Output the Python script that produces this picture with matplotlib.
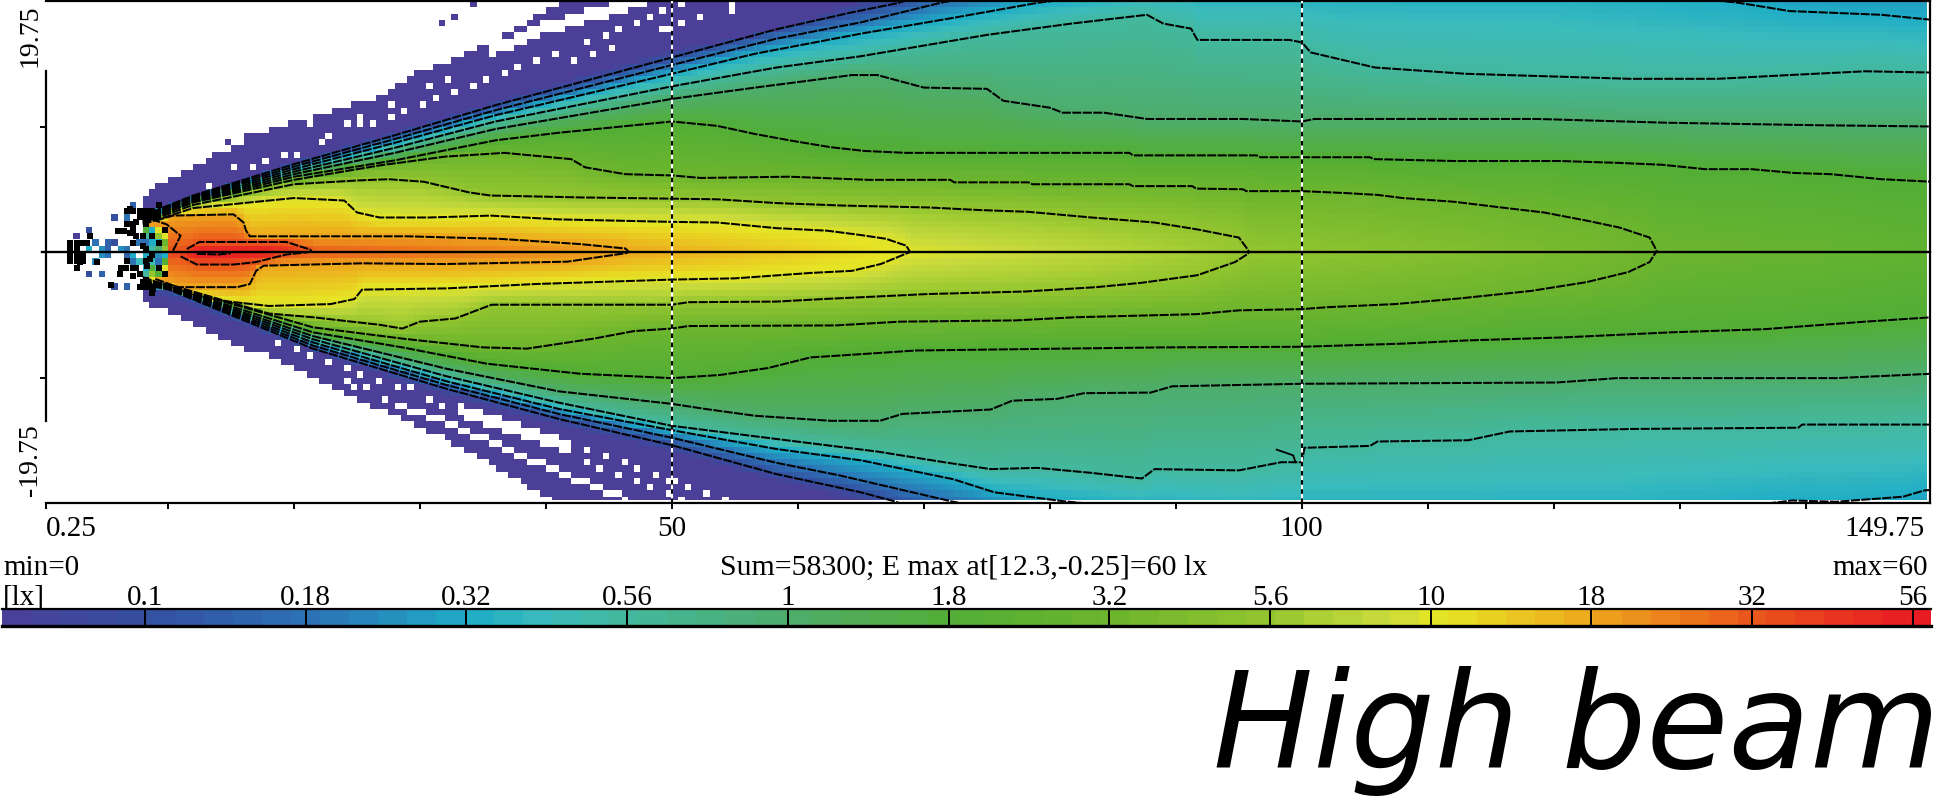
import numpy as np
import matplotlib
matplotlib.use('Agg')
import matplotlib.pyplot as plt
from matplotlib.colors import LinearSegmentedColormap, LogNorm

# isolux lines: (distance m, half width m)
# points past +-20 lie outside the frame and only carry the colour field
up_006 = [(8,3.1),(20,7.2),(36,12),(50,16.2),(58.3,17.6),(64,19.75),(80,26),(150,30)]
up_01 = [(8,2.9),(12,4.5),(20,7),(28,9.3),(36,11.7),(50,15.5),(58.3,17.75),(64.3,19.1),(68,19.85),(80,24),(150,28)]
up_018 = [(8,2.8),(12,4.4),(20,6.8),(28,9),(36,11.3),(50,14.9),(58.3,17),(65,18.3),(71.3,19.85),(85,22.5),(150,24)]
up_032 = [(8,2.7),(12,4.3),(20,6.6),(28,8.7),(36,10.9),(50,14.2),(56.6,15.8),(65,17.4),(72,18.6),(79,19.85),(90,21.2),(120,21.5),
          (134.7,19.85),(138.7,19.2),(146,18.9),(150,18.5)]
up_056 = [(8,2.6),(12,4.2),(20,6.4),(28,8.3),(36,10.4),(50,13.2),(58.3,14.7),(65,15.6),(75,17.3),(81.7,18.2),(87.7,18.9),(89,18.2),
          (91.2,17.8),(91.7,16.9),(99,16.9),(100,16.7),(100.7,15.9),(105.8,14.7),(113,14.2),(126,13.8),(133,13.8),(138.7,14.1),(144.7,14.4),(150,14.3)]
up_1 = [(8,2.5),(12,4.1),(20,6.2),(28,7.9),(36,9.8),(50,12.2),(56.6,13.1),(64.3,14.1),(66.3,14.1),(70,13.1),(75,13),(76.3,12.05),
        (80,11.5),(81,11.1),(84.3,11.1),(87.7,10.6),(95.3,10.6),(100,10.4),(101,10.6),(118.7,10.6),(129,10.3),(141,10.1),(150,10)]
up_18 = [(8,2.45),(12,4),(20,6),(28,7.3),(36,8.9),(41,9.5),(50,10.4),(53.6,10.05),(56.6,9.4),(59.6,8.85),(62.6,8.35),(65.3,8.05),(68.6,7.9),
         (86.3,7.9),(86.6,7.7),(96.4,7.7),(96.7,7.55),(105.4,7.55),(105.7,7.4),(112.1,7.25),(120.5,7.25),(125.2,7.1),(128.6,6.95),(132,6.6),
         (135.7,6.6),(139,6.3),(142,6.2),(146,5.8),(150,5.6)]
up_32 = [(8,2.4),(12,3.95),(20,5.75),(26.8,6.9),(32,7.6),(36.7,7.9),(42,7.4),(43.1,6.75),(46.3,6.2),(50,6.1),(52.3,5.9),(59.3,6),(65.6,5.75),
         (72.1,5.75),(72.4,5.55),(78.3,5.55),(78.6,5.4),(86.3,5.4),(86.6,5.25),(91.3,5.25),(91.6,5.05),(95.3,5),(95.6,4.85),(100,4.85),(103.4,4.7),
         (106,4.55),(108,4.3),(112.1,4),(115.8,3.55),(119.2,3.15),(122.6,2.5),(125.2,1.95),(127.6,1.15),(128.1,0.2),(128.2,0)]
up_56 = [(8,2.3),(12,3.75),(20,5.4),(25,5.7),(27.5,5.8),(30.3,5.6),(33.9,4.75),(35.6,4.5),(42.7,4.35),(53.6,4.2),(58.3,3.9),(63.6,3.7),
         (70.3,3.55),(74.3,3.35),(78.3,3.2),(83.3,2.75),(88.3,2.35),(91.7,1.8),(95,1.15),(95.7,0.2),(95.8,0)]
up_10 = [(8,2.2),(12,3.5),(20,4.3),(24,4.1),(25,3.15),(26.8,2.75),(30.7,2.75),(35.6,2.9),(41,2.6),(50,2.4),(53.6,2.35),(58.3,1.9),
         (62.3,1.7),(65,1.35),(67,1.05),(68.6,0.5),(68.9,0)]
up_18lx = [(9,2.5),(10.4,2.9),(15.2,3),(16,2.35),(16.2,1.7),(16.5,1.25),(29,1.25),(36.3,1.05),(42.7,0.63),(46.3,0.28),(46.6,0)]
up_32lx = [(11.5,0.24),(12.5,0.8),(19.4,0.8),(21.3,0.19),(21.4,0)]
up_lobe = [(10.4,0.1),(11,1.3),(9.9,2.2),(9,2.5)]

lo_006 = [(8,3.1),(20,7.4),(32,11.5),(41,13.9),(50,16),(58.3,18.3),(65,20),(80,26),(150,30)]
lo_01 = [(8,2.6),(10.1,3),(21.5,7.7),(32.1,10.9),(41,13.3),(50,15.4),(58.3,17.7),(65,19.15),(67.6,19.85),(80,24),(150,28)]
lo_018 = [(8,2.55),(10.1,2.95),(21.5,7.45),(32.1,10.6),(41,12.9),(50,14.8),(58.3,16.8),(63.3,17.8),(72.1,19.85),(85,22.5),(150,24)]
lo_032 = [(8,2.5),(10.1,2.9),(21.5,7.2),(32.1,10.3),(41,12.5),(50,14.2),(58.3,15.7),(65,16.6),(72.3,18.1),(75.6,19.15),(81,19.85),(95,21.2),
          (125,21.5),(138.9,19.8),(142.4,19.9),(147.7,19.5),(149.4,19),(150,18.95)]
lo_056 = [(8,2.45),(10.1,2.85),(21.5,6.95),(32.1,9.9),(41,12),(50,13.85),(58.3,14.9),(66.3,15.9),(71.6,16.75),(75.3,17.3),(79,17.2),(83.3,17.6),
          (87.3,18.05),(88.3,17.3),(95,17.4),(98.35,16.75),(100,16.75),(100.2,15.6),(105.4,15.45),(106,15.1),(113.2,15),(116.5,14.3),(126.3,14.1),
          (139.4,14),(139.7,13.75),(150,13.75)]
lo_1 = [(8,2.4),(10.1,2.8),(21.5,6.7),(32.1,9.3),(41,11.1),(50,12.1),(52.6,12.5),(56.6,13.05),(62.6,13.45),(66.5,13.45),(68.3,12.9),(75.3,12.55),
        (77,11.85),(80.6,11.7),(82.7,11.25),(88,11.2),(89.7,10.7),(100,10.5),(120.2,10.4),(125,10.05),(142.4,10.05),(150,9.7)]
lo_18 = [(8,2.35),(10.1,2.75),(21.5,6.4),(28.6,7.6),(35.3,8.9),(42.7,9.7),(50,10.05),(53.8,9.8),(57.6,9.25),(61,8.4),(65.6,8.1),(69.3,7.85),
         (81,7.7),(89,7.6),(100,7.55),(108,7.3),(113,7.05),(120.9,6.8),(129.3,6.4),(136.7,6.15),(144.7,5.55),(150,5.2)]
lo_32 = [(8,2.3),(10.1,2.7),(21.5,6),(28.6,6.9),(35,7.6),(38.5,7.7),(43.8,6.9),(47,6.3),(50,6.1),(51.3,5.9),(63,5.85),(68.1,5.55),(77.3,5.45),
         (82,5.2),(91.7,4.95),(95,4.65),(100,4.55),(102,4.4),(107.4,4.15),(112.5,3.7),(118.2,3.1),(122.6,2.4),(125.9,1.6),(127.6,0.8),(128.1,0)]
lo_56 = [(8,2.2),(10.1,2.6),(18,4.9),(21.5,5.2),(26.8,5.8),(28.6,6.1),(30,5.55),(32.8,5.3),(34.9,4.5),(35.7,4.2),(50,4.2),(51.3,4),(58.3,3.95),
         (62,3.75),(70.3,3.35),(78,3.15),(83.7,2.8),(87.3,2.45),(91.7,1.85),(94.7,0.8),(95.7,0.15),(95.8,0)]
lo_10 = [(8,2),(12,3.4),(14.4,3.9),(18,4.3),(22.9,4.15),(24.8,3.75),(25.4,3),(32.1,2.9),(39.2,2.55),(50,2.2),(55,2.1),(61,1.67),(64.3,1.5),
         (66.6,0.95),(68.9,0)]
lo_18lx = [(9,2.15),(10.8,2.8),(15.5,2.8),(16.5,2.55),(17,1.5),(17.6,1.09),(25.4,0.9),(32,0.96),(41.7,0.77),(46.3,0.1),(46.6,0)]
lo_32lx = [(11,0.35),(12.3,1),(15.2,1),(17,0.8),(19.4,0.2),(21.3,0)]
lo_56lx = [(12.3,0.15),(14,0.2),(15,0.1)]

levels = [0.06, 0.1, 0.18, 0.32, 0.56, 1, 1.8, 3.2, 5.6, 10, 18, 32]
up_lines = [up_006, up_01, up_018, up_032, up_056, up_1, up_18, up_32, up_56, up_10, up_18lx, up_32lx]
lo_lines = [lo_006, lo_01, lo_018, lo_032, lo_056, lo_1, lo_18, lo_32, lo_56, lo_10, lo_18lx, lo_32lx]

# lux on the axis
centre_x = [8, 10, 12.3, 18, 21.4, 46.6, 68.9, 95.8, 128.2, 150]
centre_lx = [20, 40, 60, 60, 32, 18, 10, 5.6, 3.2, 2.4]

# outer border of the lit cells
up_edge = [(7.8,4.4),(11.1,6.4),(13.6,7.6),(17.2,9.5),(22.2,11),(26.8,12.4),(29.6,14.2),(32.1,15.1),(36,16.8),(39.2,18.8),(41,19.9),(60,30),(150,30)]
lo_edge = [(7.8,4),(10.2,4.8),(12.5,5.9),(15.2,7.5),(18,8.2),(25,11.7),(32.1,14.9),(40.3,19.7),(42,20.5),(60,30),(150,30)]

# unlit cells inside the dark band: stripes and single cells
up_stripe = [(35.6,15.8),(39.2,17.4),(42.7,18.4),(46.3,19.5),(48,20)]
lo_stripe_a = [(28.6,12.5),(32.1,13.6),(35.65,15.2),(39.2,16.8),(42.7,18.35),(46.3,19.7)]
lo_stripe_b = [(33.2,12.5),(35.65,13.3),(39.2,14.5),(42,15.4)]
up_holes = [(50.5,18.35),(49.6,17.9),(47,18.3),(45.75,17.9),(44.5,17.35),(43.1,16.85),(45.4,16.3),(43.8,15.85),(42.4,15.3),(40.6,15.9),(39.2,15.35),
            (37.8,14.85),(36.5,14.3),(35.3,13.85),(34,13.3),(32.1,13.8),(32.5,12.85),(31.4,12.3),(30.7,13.3),(27.85,11.65),(27.85,10.85),(28.75,11.25),
            (30,11.8),(25,10.85),(24,10.2),(25.4,10),(26.25,10.4),(21.3,10),(22,8.5),(22.9,9),(20.4,7.9),(19,7.9),(17.9,7.4),(16.9,6.95),(15.3,6.5),(13,5.45),
            (49.1,19.35),(50.6,19.75),(54.8,19.35),(54.8,19.75),(52.3,18.9),(50.75,18.35),(49.25,17.9),(48.25,18.8)]
lo_holes = [(18.9,7.25),(20.4,7.7),(21.4,8.2),(22.9,8.7),(24,9.25),(24,10.05),(25.2,9.65),(24.7,10.55),(26.6,10.05),(28,10.55),(25.7,11),(29.1,11),
            (27.15,11.6),(28,12.1),(30.5,11.6),(31.6,12.1),(43.1,15.6),(44.7,16.1),(43.1,16.6),(46.1,16.6),(44.3,17.1),(47.2,17.1),(45.75,17.6),(48.6,17.6),
            (47.2,18.1),(50,18.1),(48.05,18.6),(49.5,19.15),(48.75,17.6),(49.9,18.1),(51.25,18.6),(49.6,19.15),(52.5,19.15),(54.1,19.6),(50.6,19.6)]

# loose cells around the lamp
spot_x = [2.5,3.7,4.1,5.1,5.5,3.55,4.5,5.4,4.6,4.1,5.5,6.5,5.5,7,6.6,8.05,9.1,9.65,10.7,12.3,13.9,14.9,16.4,17.4,18.4,7.3,7.7,3.2,4.8,
          34,32.8,31.6,3.5,4.25,4.75,5.25,6.25,6.75,6.75,7.25,7.75,7.25,
          8.25,8.25,8.75,8.75,9.25,9.25,9.75,9.75,8.25,8.75,9.25,9.75,8.25,8.75,9.25,9.75,
          8.25,8.75,9.25,9.75,8.25,8.75,9.25,9.75,8.25,8.75,9.25,8.25,8.75,9.25]
spot_y = [1.43,1.83,0.9,0.5,0.9,-1.6,-1.6,-0.3,-0.3,-0.55,-2.7,-2.95,2.6,3.55,2.9,4.2,4.9,5.4,5.8,6.9,7.9,8.5,9,9.4,9.9,-0.3,0.7,-0.3,0.3,
          19.7,18.9,18.3,0.25,0.75,-0.25,0.25,0.25,-0.25,0.25,-0.25,-0.75,-0.75,
          0.25,-0.25,0.25,-0.25,0.25,-0.25,0.25,-0.25,0.75,0.75,0.75,0.75,-0.75,-0.75,-0.75,-0.75,
          1.25,1.25,1.25,1.25,-1.25,-1.25,-1.25,-1.25,1.75,1.75,1.75,-1.75,-1.75,-1.75]
spot_lx = [0.06,0.1,0.18,0.14,0.1,0.1,0.14,0.18,0.14,0.24,0.1,0.14,0.1,0.14,0.18,0.07,0.06,0.06,0.06,0.06,0.06,0.06,0.06,0.06,0.06,0.3,0.18,0.32,0.24,
           0.06,0.06,0.06,0.32,0.18,0.24,0.14,0.24,0.14,0.18,0.32,0.42,0.18,
           0.2,0.32,0.5,0.18,1,0.24,5.6,0.32,0.18,0.32,0.32,3.2,0.24,0.42,0.18,1.8,
           0.56,0.32,5.6,10,0.32,1.8,0.56,10,1.8,0.32,10,0.56,5.6,1.8]
blob_x = [2.25,2.25,2.25,2.25,2.75,2.75,2.75,2.75,2.75,3.25,3.25,3.25,3.8,3.55,3,4.35,6,6.5,7,7,7.5,6.2,6.7,7.25,8.3,8,8,8.3,8.6,5.5,8,8.8,7.5,7.5,
          8.25,8.25,8.75,8.25,8.75,7.25,7.75,6.75,7.25,6.25,6.75,7.25,7.75,7.25,6.75,7.25,7.75,8.25,8.75,9.25,7.75,8.25,8.75,
          9.25,8.75,9.25,8.75,9.75,9.75,8.25,8.25]
blob_y = [-0.75,-0.25,0.25,0.75,-1.25,-0.75,-0.25,0.25,0.75,-0.75,-0.25,0.75,1.3,0.75,-0.8,-0.8,1.7,1.7,1.55,3.4,2.4,-1.75,-1.25,-1.9,-1.1,0.5,1.3,2.9,-0.55,-2.6,-2.4,-2.95,-1.25,1.25,
          2.25,2.75,2.75,-2.25,-2.75,2.25,2.75,2.25,1.75,-1.25,-0.75,-1.25,-1.75,0.75,3.25,3.25,3.25,3.25,3.25,3.75,-2.75,-2.75,-3.25,
          0.75,-0.25,-1.25,1.25,1.75,-1.75,0.25,-0.75]

# colour bar: value at each step, ticks, colours
bar_ticks = ['0.1','0.18','0.32','0.56','1','1.8','3.2','5.6','10','18','32','56']
cmap_lx = [0.06,0.1,0.18,0.32,0.42,0.56,1,1.8,3.2,5.6,6.6,8.5,10.5,18,32,56,60]
cmap_col = ['#4b3f98','#344f9f','#2c72b5','#1fadc7','#3cbbbb','#43b89e','#4ead6c','#52ae35','#6db52e','#93c52f','#aacf35','#c9da3c','#e6e525',
            '#eea61d','#ea561c','#e81a22','#e71c23']

W, H = 1943, 812

norm = LogNorm(0.06, 60)
stops = [float(norm(v)) for v in cmap_lx]
cmap = LinearSegmentedColormap.from_list('lux', list(zip(stops, cmap_col)), N=512)
cmap.set_bad('white')

# cell grid 0.5 m, centres at 0.25, 0.75, ...
xe = np.arange(0, 150.01, 0.5)
xe[-1] = 149.6
ye = np.arange(-20, 20.01, 0.5)
ye[0] = -19.75
xc = np.arange(0.25, 150, 0.5)
yc = np.arange(-19.75, 20, 0.5)
field = np.full((len(yc), len(xc)), np.nan)


def pts(line):
    return [p[0] for p in line], [p[1] for p in line]


def side(x, lines, centre):
    # half widths from the inner line to the outer one, only those still open
    ws, vs = [0.0], [np.log10(centre)]
    for lv, line in reversed(list(zip(levels, lines))):
        lx, lw = pts(line)
        w = np.interp(x, lx, lw)
        if w > 0:
            ws.append(max(w, ws[-1] + 0.001))
            vs.append(np.log10(lv))
    return ws, vs


for i, x in enumerate(xc):
    if x < 8:
        continue
    c = np.interp(x, centre_x, centre_lx)
    uw, uv = side(x, up_lines, c)
    dw, dv = side(x, lo_lines, c)
    ue = np.interp(x, *pts(up_edge))
    de = np.interp(x, *pts(lo_edge))
    for j, y in enumerate(yc):
        if y > 0 and y <= ue:
            field[j, i] = 10 ** np.interp(y, uw, uv)
        elif y < 0 and -y <= de:
            field[j, i] = 10 ** np.interp(-y, dw, dv)


def clear(x, y):
    i = int(x / 0.5)
    j = int((y + 20) / 0.5)
    if 0 <= i < len(xc) and 0 <= j < len(yc):
        field[j, i] = np.nan


for x, w in up_holes:
    clear(x, w)
for x, w in lo_holes:
    clear(x, -w)
for sx in np.arange(up_stripe[0][0], up_stripe[-1][0], 0.5):
    sw = np.interp(sx, *pts(up_stripe))
    clear(sx, sw)
    clear(sx, sw + 0.5)
for sx in np.arange(lo_stripe_a[0][0], lo_stripe_a[-1][0], 0.5):
    clear(sx, -np.interp(sx, *pts(lo_stripe_a)))
for sx in np.arange(lo_stripe_b[0][0], lo_stripe_b[-1][0], 0.5):
    sw = np.interp(sx, *pts(lo_stripe_b))
    clear(sx, -sw)
    clear(sx, -sw - 0.5)
for x, y, v in zip(spot_x, spot_y, spot_lx):
    field[int((y + 20) / 0.5), int(x / 0.5)] = v

plt.rcParams['font.family'] = ['Liberation Serif', 'DejaVu Serif']
fig = plt.figure(figsize=(W / 100, H / 100), dpi=100, facecolor='white')

L, R, T, B = 46, 1930, 2, 504
ax = fig.add_axes([L / W, 1 - B / H, (R - L) / W, (B - T) / H])
ax.pcolormesh(xe, ye, np.ma.masked_invalid(field), cmap=cmap, norm=norm, antialiased=False, linewidth=0)
ax.set_xlim(0.32, 149.85)
ax.set_ylim(-20, 20)

dash = (0, (4.5, 0.7))
for line in up_lines[1:] + [up_lobe]:
    lx, lw = pts(line)
    ax.plot(lx, lw, color='black', lw=1.45, ls=dash)
for line in lo_lines[1:] + [lo_56lx]:
    lx, lw = pts(line)
    ax.plot(lx, -np.array(lw), color='black', lw=1.45, ls=dash)
# small loop on the lower 0.56 line
ax.plot([98, 99.3, 99.5], [-15.75, -16.2, -16.75], color='black', lw=1.3)
ax.scatter(blob_x, blob_y, s=21, marker='s', color='black', linewidths=0, zorder=3)

for d in [50, 100]:
    ax.axvline(d, color='white', lw=1.5, zorder=4)
    ax.axvline(d, color='black', lw=1.5, ls=(0, (2.2, 2.2)), zorder=5)

# axis through the beam, runs a bit past the left spine
ax.plot([0.0, 149.85], [0, 0], color='black', lw=1.7, clip_on=False, zorder=6)

for s in ax.spines.values():
    s.set_linewidth(1.6)
ax.spines['left'].set_bounds(-13.5, 14.4)
ax.set_xticks([0.32, 10, 20, 30, 40, 50, 60, 70, 80, 90, 100, 110, 120, 130, 140])
ax.set_xticklabels([])
ax.set_yticks([-10, 10])
ax.set_yticklabels([])
ax.tick_params(length=4, width=1.4)


def ptext(x, y, s, **kw):
    kw.setdefault('fontsize', 21)
    return fig.text(x / W, 1 - y / H, s, **kw)


ptext(46, 536, '0.25', ha='left', va='baseline')
ptext(672, 536, '50', ha='center', va='baseline')
ptext(1301, 536, '100', ha='center', va='baseline')
ptext(1925, 536, '149.75', ha='right', va='baseline')
ptext(3, 575, 'min=0', ha='left', va='baseline')
ptext(964, 575, 'Sum=58300; E max at[12.3,-0.25]=60 lx', ha='center', va='baseline', fontsize=21.5)
ptext(1928, 575, 'max=60', ha='right', va='baseline')
ptext(3, 605, '[lx]', ha='left', va='baseline')
ptext(30, 36, '19.75', rotation=90, ha='center', va='center', fontsize=20)
ptext(30, 460, '-19.75', rotation=90, ha='center', va='center', fontsize=20)

# colour bar, position in tick steps, 0.1 at step 0
BL, BR, BT, BB = 2, 1931, 610, 627
first, step = 145, 160.7
bar = fig.add_axes([BL / W, 1 - BB / H, (BR - BL) / W, (BB - BT) / H])
t0 = (BL - first) / step
t1 = (BR - first) / step
te = np.arange(t0, t1 + 0.18, 0.18)
tm = (te[:-1] + te[1:]) / 2
bar_v = 0.1 * 10 ** (0.25 * tm)
bar.pcolormesh(te, [0, 1], np.clip(bar_v, 0.06, 60).reshape(1, -1), cmap=cmap, norm=norm, antialiased=False, linewidth=0)
bar.set_xlim(t0, t1)
bar.set_ylim(0, 1)
bar.set_xticks([])
bar.set_yticks([])
for s in ['left', 'right']:
    bar.spines[s].set_visible(False)
bar.spines['top'].set_linewidth(1.6)
bar.spines['bottom'].set_linewidth(2.4)
for k, lab in enumerate(bar_ticks):
    bar.axvline(k, color='black', lw=1.4)
    ptext(first + k * step, 605, lab, ha='center', va='baseline')

fig.text(1940 / W, 1 - 768 / H, 'High beam', ha='right', va='baseline', family=['DejaVu Sans'],
         style='oblique', fontsize=96, color='black')

fig.savefig('out.png', dpi=100, facecolor='white')
